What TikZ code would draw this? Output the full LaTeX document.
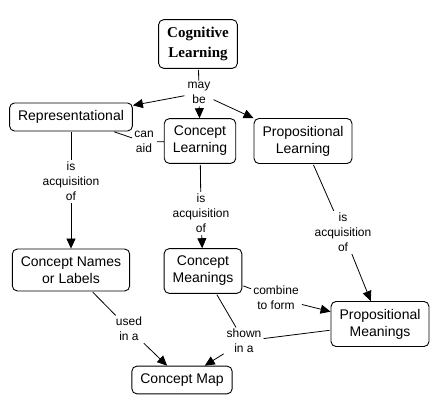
\documentclass[tikz,border=0pt]{standalone}
\usepackage{fontspec}
\setmainfont{Liberation Sans}
\newfontfamily\cogserif{Liberation Serif}
\usetikzlibrary{arrows.meta}
\begin{document}
\begin{tikzpicture}[x=1pt,y=-1pt,
 concept/.style={draw, rounded corners=5pt, line width=0.9pt, align=center, inner xsep=8.5pt, inner ysep=7.5pt, font=\fontsize{14}{17}\selectfont},
 lbl/.style={align=center, inner xsep=2pt, inner ysep=1.5pt, font=\fontsize{12}{15}\selectfont},
 link/.style={line width=0.8pt, shorten <=1pt},
 arr/.style={link, -{Triangle[length=10pt,width=9pt]}}
]
\useasboundingbox (0,0) rectangle (441,412);
% concepts
\node[concept, font=\fontsize{15}{20}\selectfont\cogserif\bfseries] (cog) at (198,44) {Cognitive\\Learning};
\node[concept] (rep) at (71,117) {Representational};
\node[concept] (cl) at (200,141) {Concept\\Learning};
\node[concept] (pl) at (303,141) {Propositional\\Learning};
\node[concept] (cn) at (71,270) {Concept Names\\or Labels};
\node[concept] (cm) at (203,271) {Concept\\Meanings};
\node[concept] (pm) at (380,324) {Propositional\\Meanings};
\node[concept] (map) at (182,380) {Concept Map};
% labels
\node[lbl] (maybe) at (199,93) {may\\be};
\node[lbl] (canaid) at (144,142) {can\\aid};
\node[lbl] (acq1) at (71,181) {is\\acquisition\\of};
\node[lbl] (acq2) at (201,213) {is\\acquisition\\of};
\node[lbl] (acq3) at (343,232) {is\\acquisition\\of};
\node[lbl] (comb) at (276,298) {combine\\to form};
\node[lbl] (used) at (129,329) {used\\in a};
\node[lbl] (shown) at (244,341) {shown\\in a};
% connectors
\draw[link] (cog) -- (maybe);
\draw[arr] (maybe) -- (rep);
\draw[arr] (maybe) -- (cl);
\draw[arr] (maybe) -- (pl);
\draw[link] (rep) -- (canaid);
\draw[link] (canaid) -- (cl);
\draw[link] (rep) -- (acq1);
\draw[arr] (acq1) -- (cn);
\draw[link] (cl) -- (acq2);
\draw[arr] (acq2) -- (cm);
\draw[link] (pl) -- (acq3);
\draw[arr] (acq3) -- (pm);
\draw[link] (cm) -- (comb);
\draw[arr] (comb) -- (pm);
\draw[link] (cn) -- (used);
\draw[arr] (used) -- (map);
\draw[link] (cm) -- (shown);
\draw[link] (pm) -- (shown);
\draw[arr] (shown) -- (map);
\end{tikzpicture}
\end{document}
